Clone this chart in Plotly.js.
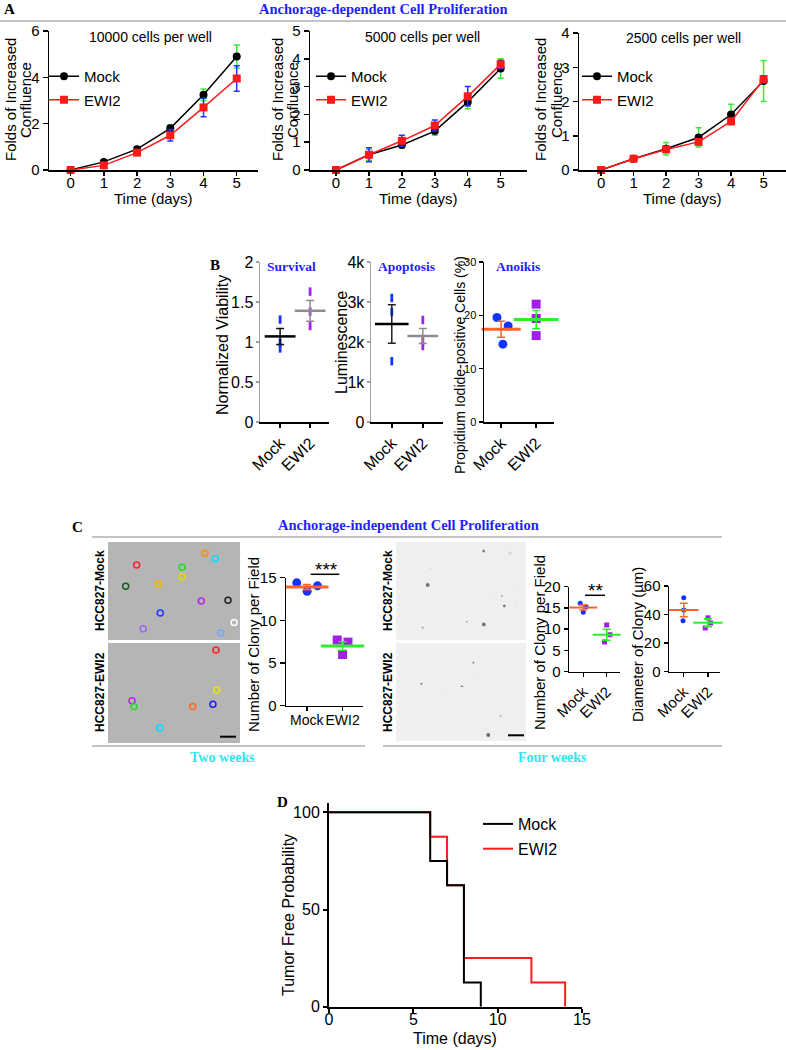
<!DOCTYPE html>
<html><head><meta charset="utf-8">
<script src="https://cdn.plot.ly/plotly-3.0.1.min.js"></script>
<style>html,body{margin:0;padding:0;background:#fff;}#chart{width:786px;height:1050px;}</style>
</head><body><div id="chart"></div>
<script>
// ---------------- DATA ----------------
// Panel A: anchorage-dependent proliferation
const days = [0, 1, 2, 3, 4, 5];
const a1Mock = [0, 0.35, 0.9, 1.8, 3.25, 4.9];
const a1MockErr = [0, 0.05, 0.08, 0.15, 0.25, 0.5];
const a1Ewi2 = [0, 0.2, 0.75, 1.5, 2.7, 3.95];
const a1Ewi2Err = [0, 0.05, 0.1, 0.25, 0.4, 0.55];
const a2Mock = [0, 0.55, 0.9, 1.4, 2.45, 3.65];
const a2MockErr = [0, 0.2, 0.1, 0.15, 0.25, 0.35];
const a2Ewi2 = [0, 0.55, 1.05, 1.6, 2.65, 3.8];
const a2Ewi2Err = [0, 0.25, 0.2, 0.2, 0.35, 0.15];
const a3Mock = [0, 0.33, 0.62, 0.95, 1.62, 2.6];
const a3MockErr = [0, 0.03, 0.18, 0.28, 0.3, 0.6];
const a3Ewi2 = [0, 0.33, 0.6, 0.82, 1.42, 2.65];
const a3Ewi2Err = [0, 0.02, 0.05, 0.06, 0.08, 0.1];
const groups = ['Mock', 'EWI2'];
const aTitles = ['10000 cells per well', '5000 cells per well', '2500 cells per well'];

// Panel B
const b1MockPts = [1.28, 0.99, 0.92];
const b1Ewi2Pts = [1.63, 1.38, 1.2];
const b1Mean = [1.07, 1.39];
const b1Sem = [0.1, 0.13];
const b2MockPts = [3100, 2750, 1520];
const b2Ewi2Pts = [2550, 2050, 1900];
const b2Mean = [2450, 2150];
const b2Sem = [480, 190];
const b3MockPts = [19.6, 18.0, 14.6];
const b3MockJit = [-0.12, 0.2, 0.05];
const b3Ewi2Pts = [22.1, 19.4, 16.2];
const b3Ewi2Jit = [0, 0, 0];
const b3Mean = [17.4, 19.2];
const b3Sem = [1.5, 1.7];

// Panel C
const c1MockPts = [14.4, 13.4, 14.05];
const c1MockJit = [-0.28, 0.01, 0.3];
const c1Ewi2Pts = [7.7, 6.0, 7.45];
const c1Ewi2Jit = [-0.15, 0, 0.15];
const c1Mean = [13.9, 7.0];
const c1Sem = [0.3, 0.5];
const c2MockPts = [16.1, 15.3, 14.0];
const c2MockJit = [-0.13, 0.12, 0];
const c2Ewi2Pts = [11.0, 8.7, 7.0];
const c2Ewi2Jit = [0, 0.14, -0.09];
const c2Mean = [15.1, 8.7];
const c2Sem = [0.6, 1.3];
const c3MockPts = [51.8, 43.2, 35.7];
const c3MockJit = [0, 0, -0.03];
const c3Ewi2Pts = [37.7, 34.1, 30.6];
const c3Ewi2Jit = [0, 0.11, -0.11];
const c3Mean = [43.2, 34.3];
const c3Sem = [4.8, 2.8];

// Micrograph annotations (colony circles, fraction of image area)
const colX = [0.217,0.733,0.813,0.561,0.561,0.134,0.381,0.707,0.909,0.396,0.267,0.854,0.955,0.818,0.823,0.182,0.197,0.642,0.795,0.392];
const colY = [0.886,0.944,0.917,0.874,0.827,0.780,0.790,0.706,0.710,0.647,0.569,0.547,0.599,0.463,0.264,0.210,0.181,0.181,0.193,0.075];
const colC = ['#ff2020','#ff8c00','#00e0ff','#22dd22','#e6d600','#1a5c1a','#ffb300','#bb22ee','#222222','#1a3cff','#9966ff','#66aaff','#ffffff','#ff2020','#e6e600','#bb22ee','#22dd22','#ff6a1a','#1a1aff','#00e0ff'];
const dotX = [0.675,0.269,0.244,0.815,0.833,0.931,0.744,0.928,0.544,0.675,0.205,0.877,0.595,0.195,0.508,0.354,0.636,0.710,0.805,0.423];
const dotY = [0.955,0.869,0.786,0.731,0.682,0.786,0.740,0.700,0.603,0.590,0.574,0.945,0.400,0.295,0.282,0.270,0.317,0.040,0.134,0.343];
const dotS = [4,2,5,3,4,2,2,2,3,5,3,5,3,3,3,2,2,5,4,2];
const dotC = ['#555','#888','#444','#777','#555','#999','#999','#999','#888','#444','#777','#ccc','#555','#444','#444','#999','#aaa','#333','#bbb','#bbb'];

// Panel D: Kaplan-Meier
const kmMockT = [0, 6, 7, 8, 9];
const kmMockP = [100, 75, 62.5, 12.5, 0];
const kmEwi2T = [0, 6, 7, 8, 12, 14];
const kmEwi2P = [100, 87.5, 62.5, 25, 12.5, 0];

// ---------------- LAYOUT HELPERS ----------------
const W = 786, H = 1050;
const F = 'Liberation Sans, Arial, sans-serif';
const SERIF = 'Liberation Serif, Times New Roman, serif';
const BLUE = '#1f1fff', CYAN = '#2ee6ee';
const dX = (l, r) => [l / W, Math.min(r / W, 1)];
const dY = (t, b) => [1 - b / H, 1 - t / H];
function ax(extra) {
  return Object.assign({showgrid:false, zeroline:false, showline:true, linecolor:'#000', linewidth:1.5,
    ticks:'outside', ticklen:5, tickwidth:1.5, tickcolor:'#000',
    tickfont:{family:F, size:15, color:'#000'}, fixedrange:true, automargin:false}, extra);
}
const annotations = [];
function ann(text, x, y, o) {
  o = o || {};
  annotations.push({text:text, xref:'paper', yref:'paper', x:x / W, y:1 - y / H,
    xanchor:o.xanchor || 'center', yanchor:'middle', showarrow:false, textangle:o.rot ? -90 : 0,
    font:{family:o.family || F, size:o.size || 15, color:o.color || '#000'}});
}
const shapes = [];
function hline(x0, x1, y, color, w) {
  shapes.push({type:'line', xref:'paper', yref:'paper', x0:x0 / W, x1:x1 / W, y0:1 - y / H, y1:1 - y / H,
    line:{color:color, width:w}});
}
function rect(x0, y0, x1, y1, fill) {
  shapes.push({type:'rect', xref:'paper', yref:'paper', x0:x0 / W, x1:x1 / W, y0:1 - y1 / H, y1:1 - y0 / H,
    fillcolor:fill, line:{width:0}, layer:'below'});
}

const traces = [];
// ---------------- PANEL A ----------------
const aSets = [
  [a1Mock, a1MockErr, a1Ewi2, a1Ewi2Err],
  [a2Mock, a2MockErr, a2Ewi2, a2Ewi2Err],
  [a3Mock, a3MockErr, a3Ewi2, a3Ewi2Err]
];
aSets.forEach((s, i) => {
  const n = i === 0 ? '' : String(i + 1);
  const lg = i === 0 ? 'legend' : 'legend' + (i + 1);
  traces.push({x:days, y:s[0], xaxis:'x' + n, yaxis:'y' + n, type:'scatter', mode:'lines+markers', name:groups[0],
    line:{color:'#000', width:1.5}, marker:{symbol:'circle', size:8, color:'#000'},
    error_y:{type:'data', array:s[1], visible:true, color:'#33ee33', thickness:1.5, width:3},
    legend:lg, legendgroup:'m', cliponaxis:false});
  traces.push({x:days, y:s[2], xaxis:'x' + n, yaxis:'y' + n, type:'scatter', mode:'lines+markers', name:groups[1],
    line:{color:'#ff1a1a', width:1.5}, marker:{symbol:'square', size:8, color:'#ff1a1a'},
    error_y:{type:'data', array:s[3], visible:true, color:'#2233ff', thickness:1.5, width:3},
    legend:lg, legendgroup:'e', cliponaxis:false});
});

// ---------------- PANEL B / C helpers ----------------
function pts(xa, ya, xs, ys, sym, size, color, lw) {
  const m = {symbol:sym, size:size, color:color};
  if (lw) m.line = {color:color, width:lw};
  traces.push({x:xs, y:ys, xaxis:xa, yaxis:ya, type:'scatter', mode:'markers', marker:m, showlegend:false, cliponaxis:false});
}
function meanBar(xa, ya, xv, mean, sem, color, ecolor, w, lw) {
  traces.push({x:[xv], y:[mean], xaxis:xa, yaxis:ya, type:'scatter', mode:'markers', showlegend:false, cliponaxis:false,
    marker:{symbol:'line-ew', size:w, color:color, line:{color:color, width:lw}},
    error_y:{type:'data', array:[sem], visible:true, color:ecolor, thickness:1.5, width:4}});
}
const zeros = a => a.map(() => 0);
const ones = a => a.map(() => 1);
const shift = (a, c) => a.map(v => v + c);
const PURPLE = '#a21fe8', PBLUE = '#1433ff', ORANGE = '#ff6326', GREEN = '#2bef2b';

// B1
pts('x4', 'y4', zeros(b1MockPts), b1MockPts, 'line-ns', 6, PBLUE, 2.8);
pts('x4', 'y4', ones(b1Ewi2Pts), b1Ewi2Pts, 'line-ns', 6, PURPLE, 2.8);
meanBar('x4', 'y4', 0, b1Mean[0], b1Sem[0], '#000', '#111', 22, 2.5);
meanBar('x4', 'y4', 1, b1Mean[1], b1Sem[1], '#8c8c8c', '#8c8c8c', 22, 2.5);
// B2
pts('x5', 'y5', zeros(b2MockPts), b2MockPts, 'line-ns', 6, PBLUE, 2.8);
pts('x5', 'y5', ones(b2Ewi2Pts), b2Ewi2Pts, 'line-ns', 6, PURPLE, 2.8);
meanBar('x5', 'y5', 0, b2Mean[0], b2Sem[0], '#000', '#222', 24, 2.5);
meanBar('x5', 'y5', 1, b2Mean[1], b2Sem[1], '#8c8c8c', '#8c8c8c', 22, 2.5);
// B3
pts('x6', 'y6', b3MockJit, b3MockPts, 'circle', 9, PBLUE);
pts('x6', 'y6', shift(b3Ewi2Jit, 1), b3Ewi2Pts, 'square', 9, PURPLE);
meanBar('x6', 'y6', 0, b3Mean[0], b3Sem[0], ORANGE, ORANGE, 28, 3);
meanBar('x6', 'y6', 1, b3Mean[1], b3Sem[1], GREEN, GREEN, 32, 3);
// C1
pts('x7', 'y7', c1MockJit, c1MockPts, 'circle', 9, PBLUE);
pts('x7', 'y7', shift(c1Ewi2Jit, 1), c1Ewi2Pts, 'square', 9, PURPLE);
meanBar('x7', 'y7', 0, c1Mean[0], c1Sem[0], ORANGE, ORANGE, 31, 3);
meanBar('x7', 'y7', 1, c1Mean[1], c1Sem[1], GREEN, GREEN, 31, 3);
// C2
pts('x8', 'y8', c2MockJit, c2MockPts, 'circle', 5, PBLUE);
pts('x8', 'y8', shift(c2Ewi2Jit, 1), c2Ewi2Pts, 'square', 5, PURPLE);
meanBar('x8', 'y8', 0, c2Mean[0], c2Sem[0], ORANGE, ORANGE, 20, 2);
meanBar('x8', 'y8', 1, c2Mean[1], c2Sem[1], GREEN, GREEN, 20, 2);
// C3
pts('x9', 'y9', c3MockJit, c3MockPts, 'circle', 5, PBLUE);
pts('x9', 'y9', shift(c3Ewi2Jit, 1), c3Ewi2Pts, 'square', 5, PURPLE);
meanBar('x9', 'y9', 0, c3Mean[0], c3Sem[0], ORANGE, ORANGE, 21, 2);
meanBar('x9', 'y9', 1, c3Mean[1], c3Sem[1], GREEN, GREEN, 21, 2);
// micrograph marks
traces.push({x:colX, y:colY, xaxis:'x10', yaxis:'y10', type:'scatter', mode:'markers', showlegend:false,
  marker:{symbol:'circle-open', size:6, color:colC, line:{width:1.5}}});
traces.push({x:dotX, y:dotY, xaxis:'x11', yaxis:'y11', type:'scatter', mode:'markers', showlegend:false,
  marker:{symbol:'circle', size:dotS, color:dotC}});

// ---------------- PANEL D ----------------
traces.push({x:kmEwi2T, y:kmEwi2P, xaxis:'x12', yaxis:'y12', type:'scatter', mode:'lines', name:'EWI2',
  line:{color:'#ff1a1a', width:2, shape:'hv'}, legend:'legend4', legendrank:2, legendgroup:'e', cliponaxis:false});
traces.push({x:kmMockT, y:kmMockP, xaxis:'x12', yaxis:'y12', type:'scatter', mode:'lines', name:'Mock',
  line:{color:'#000', width:2, shape:'hv'}, legend:'legend4', legendrank:1, legendgroup:'m', cliponaxis:false});

// ---------------- AXES ----------------
const xA = {tickvals:days, ticklabelstandoff:-6, ticklen:4};
const xB = {tickvals:[0, 1], ticktext:groups, tickangle:-45, ticklen:4, tickfont:{family:F, size:16}};
const yB = {ticklen:3, ticklabelstandoff:-1, tickfont:{family:F, size:16}};
const xC = {tickvals:[0, 1], ticktext:groups, tickangle:-45, ticklen:4, tickfont:{family:F, size:15}};
const legBase = {xanchor:'left', yanchor:'top', bgcolor:'rgba(0,0,0,0)', font:{family:F, size:15}, traceorder:'grouped', tracegroupgap:1, itemwidth:30};
const layout = {
  width:W, height:H, margin:{l:0, r:0, t:0, b:0}, paper_bgcolor:'#fff', plot_bgcolor:'rgba(0,0,0,0)',
  font:{family:F, color:'#000'},
  xaxis: ax(Object.assign({domain:dX(49, 258), range:[-0.65, 5.64], anchor:'y'}, xA)),
  yaxis: ax({domain:dY(31, 170), range:[0, 6], tickvals:[0, 2, 4, 6], anchor:'x'}),
  xaxis2: ax(Object.assign({domain:dX(310, 527), range:[-0.79, 5.8], anchor:'y2'}, xA)),
  yaxis2: ax({domain:dY(31, 170), range:[0, 5], tickvals:[0, 1, 2, 3, 4, 5], anchor:'x2'}),
  xaxis3: ax(Object.assign({domain:dX(579, 786), range:[-0.68, 5.69], anchor:'y3'}, xA)),
  yaxis3: ax({domain:dY(33, 170), range:[0, 4], tickvals:[0, 1, 2, 3, 4], anchor:'x3'}),
  xaxis4: ax(Object.assign({domain:dX(260, 329), range:[-0.67, 1.63], anchor:'y4'}, xB)),
  yaxis4: ax(Object.assign({domain:dY(262, 422), range:[0, 2], tickvals:[0, 0.5, 1, 1.5, 2], ticktext:['0', '0.5', '1', '1.5', '2'], linecolor:'#a0a0a0', tickcolor:'#a0a0a0', anchor:'x4'}, yB)),
  xaxis5: ax(Object.assign({domain:dX(371, 443), range:[-0.67, 1.65], anchor:'y5'}, xB)),
  yaxis5: ax(Object.assign({domain:dY(262, 422), range:[0, 4000], tickvals:[0, 1000, 2000, 3000, 4000], ticktext:['0', '1k', '2k', '3k', '4k'], linecolor:'#a0a0a0', tickcolor:'#a0a0a0', anchor:'x5'}, yB)),
  xaxis6: ax(Object.assign({domain:dX(484, 554), range:[-0.49, 1.51], anchor:'y6'}, xB)),
  yaxis6: ax({domain:dY(262, 422), range:[0, 30], tickvals:[0, 10, 20, 30], ticklen:4, tickfont:{family:F, size:11}, anchor:'x6'}),
  xaxis7: ax({domain:dX(286, 363), range:[-0.58, 1.57], tickvals:[0, 1], ticktext:groups, tickangle:0, ticklen:4, ticklabelstandoff:-3, tickfont:{family:F, size:14}, anchor:'y7'}),
  yaxis7: ax({domain:dY(577.7, 705.7), range:[0, 15], tickvals:[0, 5, 10, 15], anchor:'x7'}),
  xaxis8: ax(Object.assign({domain:dX(569, 620), range:[-0.61, 1.57], anchor:'y8'}, xC)),
  yaxis8: ax({domain:dY(586.7, 671.7), range:[0, 20], tickvals:[0, 5, 10, 15, 20], ticklen:4, anchor:'x8'}),
  xaxis9: ax(Object.assign({domain:dX(669, 720), range:[-0.61, 1.5], anchor:'y9'}, xC)),
  yaxis9: ax({domain:dY(586, 671.7), range:[0, 60], tickvals:[0, 20, 40, 60], ticklen:4, anchor:'x9'}),
  xaxis10: {domain:dX(108, 240), range:[0, 1], visible:false, fixedrange:true, anchor:'y10'},
  yaxis10: {domain:dY(542, 743), range:[0, 1], visible:false, fixedrange:true, anchor:'x10'},
  xaxis11: {domain:dX(396, 526), range:[0, 1], visible:false, fixedrange:true, anchor:'y11'},
  yaxis11: {domain:dY(542, 743), range:[0, 1], visible:false, fixedrange:true, anchor:'x11'},
  xaxis12: ax({domain:dX(329, 582), range:[0, 15], tickvals:[0, 5, 10, 15], linewidth:2, tickwidth:2, ticklen:4, ticklabelstandoff:-7, tickfont:{family:F, size:16}, anchor:'y12'}),
  yaxis12: ax({domain:dY(803, 1006.7), range:[0, 104.8], tickvals:[0, 50, 100], linewidth:2, tickwidth:2, ticklen:4, tickfont:{family:F, size:16}, anchor:'x12'}),
  showlegend:true,
  legend: Object.assign({x:44 / W, y:1 - 60 / H}, legBase),
  legend2: Object.assign({x:311 / W, y:1 - 60 / H}, legBase),
  legend3: Object.assign({x:577 / W, y:1 - 60 / H}, legBase),
  legend4: Object.assign({}, legBase, {x:478 / W, y:1 - 807 / H, font:{family:F, size:16}}),
  annotations: annotations, shapes: shapes
};

// ---------------- TEXT ----------------
ann('<b>A</b>', 2, 9, {xanchor:'left', family:SERIF, size:15});
ann('<b>Anchorage-dependent Cell Proliferation</b>', 383, 9, {family:SERIF, size:14.5, color:BLUE});
ann(aTitles[0], 150, 37, {size:14});
ann(aTitles[1], 423, 37, {size:14});
ann(aTitles[2], 683, 38, {size:14});
[[10, 25], [277, 292], [540, 556]].forEach(p => {
  ann('Folds of Increased', p[0], 100, {rot:true, size:15});
  ann('Confluence', p[1], 100, {rot:true, size:15});
});
ann('Time (days)', 153, 198, {size:15});
ann('Time (days)', 418, 198, {size:15});
ann('Time (days)', 682, 198, {size:15});

ann('<b>B</b>', 215, 265, {family:SERIF, size:15});
ann('<b>Survival</b>', 291, 266, {family:SERIF, size:13.5, color:BLUE});
ann('<b>Apoptosis</b>', 406, 266, {family:SERIF, size:13.5, color:BLUE});
ann('<b>Anoikis</b>', 518, 266, {family:SERIF, size:13.5, color:BLUE});
ann('Normalized Viability', 223, 345, {rot:true, size:16});
ann('Luminescence', 341, 343, {rot:true, size:16});
ann('Propidium Iodide-positive Cells (%)', 460, 365, {rot:true, size:14});

ann('<b>C</b>', 77, 527, {family:SERIF, size:15});
ann('<b>Anchorage-independent Cell Proliferation</b>', 409, 525, {family:SERIF, size:14.5, color:BLUE});
ann('<b>HCC827-Mock</b>', 100, 591, {rot:true, size:12});
ann('<b>HCC827-EWI2</b>', 100, 692, {rot:true, size:12});
ann('<b>HCC827-Mock</b>', 388, 591, {rot:true, size:12});
ann('<b>HCC827-EWI2</b>', 388, 692, {rot:true, size:12});
ann('Number of Clony per Field', 253, 645, {rot:true, size:15});
ann('***', 326, 569, {size:19});
ann('Number of Clony per Field', 539, 643, {rot:true, size:15});
ann('**', 595, 590, {size:19});
ann('Diameter of Clony (µm)', 637, 645, {rot:true, size:15});
ann('<b>Two weeks</b>', 222, 757, {family:SERIF, size:14, color:CYAN});
ann('<b>Four weeks</b>', 552, 757, {family:SERIF, size:14, color:CYAN});

ann('<b>D</b>', 282, 802, {family:SERIF, size:15});
ann('Tumor Free Probability', 288, 915, {rot:true, size:16});
ann('Time (days)', 455, 1038, {size:16});

// ---------------- SHAPES ----------------
hline(0, 786, 21, '#c4c4c4', 2);
hline(92, 722, 537, '#c4c4c4', 2);
hline(92, 365, 746, '#c4c4c4', 2);
hline(383, 722, 746, '#c4c4c4', 2);
rect(108, 542, 240, 640, '#b5b5b5');
rect(108, 643, 240, 743, '#b5b5b5');
rect(396, 542, 526, 640, '#efefef');
rect(396, 643, 526, 741, '#efefef');
hline(220, 236, 736.7, '#000', 2);
hline(508, 524, 735.3, '#000', 2);
hline(310.7, 339.3, 574.3, '#000', 1.5);
hline(585, 605, 595.3, '#000', 1.5);

Plotly.newPlot('chart', traces, layout, {staticPlot:true, displayModeBar:false});
</script></body></html>
